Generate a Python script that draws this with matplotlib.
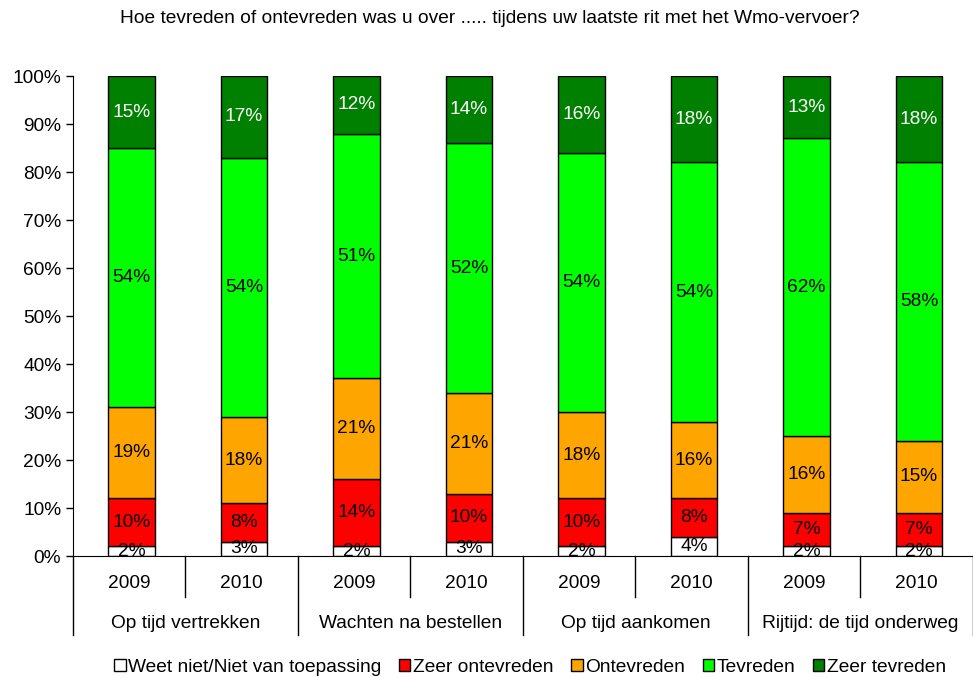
import numpy as np
import matplotlib.pyplot as plt
import matplotlib.transforms as mtransforms
from matplotlib.patches import Patch

plt.rcParams['font.family'] = ['Liberation Sans', 'DejaVu Sans']

# --- data ---
groups = ['Op tijd vertrekken', 'Wachten na bestellen', 'Op tijd aankomen', 'Rijtijd: de tijd onderweg']
years = ['2009', '2010']
series = ['Weet niet/Niet van toepassing', 'Zeer ontevreden', 'Ontevreden', 'Tevreden', 'Zeer tevreden']
weet_niet = [2, 3, 2, 3, 2, 4, 2, 2]
zeer_ontevreden = [10, 8, 14, 10, 10, 8, 7, 7]
ontevreden = [19, 18, 21, 21, 18, 16, 16, 15]
tevreden = [54, 54, 51, 52, 54, 54, 62, 58]
zeer_tevreden = [15, 17, 12, 14, 16, 18, 13, 18]

colors = ['#FFFFFF', '#FF0000', '#FFA500', '#00FF00', '#008000']
text_colors = ['black', 'black', 'black', 'black', 'white']

values = [weet_niet, zeer_ontevreden, ontevreden, tevreden, zeer_tevreden]

fs = 13.8

fig = plt.figure(figsize=(9.73, 6.77), dpi=100)
ax = fig.add_axes([0.075, 0.1787, 0.925, 0.709])

x = np.arange(len(weet_niet))
bottom = np.zeros(len(x))
for vals, col, tcol, name in zip(values, colors, text_colors, series):
    vals = np.array(vals, dtype=float)
    ax.bar(x + 0.02, vals, bottom=bottom, width=0.41, color=col, edgecolor='black',
           linewidth=1, label=name, zorder=2)
    for xi, b, v in zip(x, bottom, vals):
        ax.text(xi + 0.02, b + v / 2, f'{int(v)}%', ha='center', va='center',
                fontsize=fs, color=tcol, zorder=3)
    bottom += vals

ax.set_xlim(-0.5, len(x) - 0.5)
ax.set_ylim(0, 100)
ax.set_yticks(np.arange(0, 101, 10))
ax.set_yticklabels([f'{v}%' for v in range(0, 101, 10)], fontsize=fs)
ax.tick_params(axis='y', direction='out', length=5, width=1)
ax.set_xticks([])
for s in ['top', 'right']:
    ax.spines[s].set_visible(False)

# two-level x axis
trans = mtransforms.blended_transform_factory(ax.transData, ax.transAxes)
for i, xi in enumerate(x):
    ax.text(xi, -0.058, years[i % 2], transform=trans, ha='center', va='center', fontsize=fs)
for g, name in enumerate(groups):
    ax.text(2 * g + 0.5, -0.14, name, transform=trans, ha='center', va='center', fontsize=fs)
for b in np.arange(-0.5, len(x), 1.0):
    low = -0.1646 if int(b + 0.5) % 2 == 0 else -0.0854
    ax.plot([b, b], [0, low], transform=trans, color='black', lw=1, clip_on=False)

fig.text(0.503, 0.972, 'Hoe tevreden of ontevreden was u over ..... tijdens uw laatste rit met het Wmo-vervoer?',
         ha='center', va='center', fontsize=fs)

handles = [Patch(facecolor=c, edgecolor='black', label=n) for c, n in zip(colors, series)]
fig.legend(handles=handles, loc='center', bbox_to_anchor=(0.545, 0.014), ncol=5, frameon=False,
           fontsize=fs, handlelength=0.6, handleheight=0.6, handletextpad=0.15, columnspacing=0.9)

fig.savefig('out.png', dpi=100)
